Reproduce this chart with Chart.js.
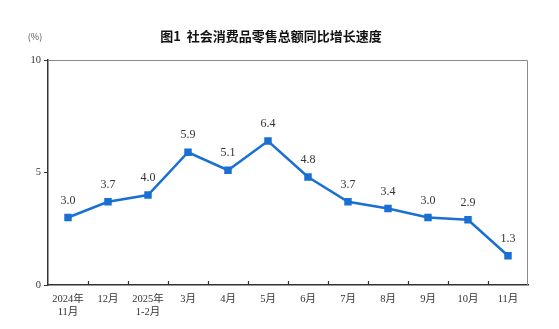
<!DOCTYPE html>
<html><head><meta charset="utf-8">
<script src="https://cdn.jsdelivr.net/npm/chart.js@4"></script>
<style>html,body{margin:0;padding:0;background:#fff}#w{width:559px;height:329px}</style>
</head><body><div id="w"><canvas id="c" width="559" height="329"></canvas></div>
<script>
const categories = [['2024年','11月'],'12月',['2025年','1-2月'],'3月','4月','5月','6月','7月','8月','9月','10月','11月'];
const growth = [3.0,3.7,4.0,5.9,5.1,6.4,4.8,3.7,3.4,3.0,2.9,1.3];
const yTicks = [0,5,10];
const titleText = '图1  社会消费品零售总额同比增长速度';
const unitText = '(%)';

const serif = '"Liberation Serif","Noto Sans CJK SC",serif';
const decor = {
  id:'decor',
  afterDraw(chart){
    const ctx = chart.ctx, a = chart.chartArea, xs = chart.scales.x;
    ctx.save();
    ctx.strokeStyle = '#8a8a8a'; ctx.lineWidth = 1;
    ctx.beginPath();
    ctx.moveTo(a.left, a.top+0.5); ctx.lineTo(a.right-0.5, a.top+0.5); ctx.lineTo(a.right-0.5, a.bottom);
    ctx.stroke();
    ctx.strokeStyle = '#333'; ctx.lineWidth = 1.2;
    ctx.beginPath();
    for (let i=1;i<categories.length;i++){
      const x = Math.round((xs.getPixelForTick(i-1)+xs.getPixelForTick(i))/2)+0.5;
      ctx.moveTo(x, a.bottom); ctx.lineTo(x, a.bottom-4);
    }
    ctx.stroke();
    const meta = chart.getDatasetMeta(0);
    ctx.fillStyle = '#333'; ctx.font = '12px '+serif; ctx.textAlign='center'; ctx.textBaseline='alphabetic';
    meta.data.forEach((p,i)=>{ ctx.fillText(growth[i].toFixed(1), p.x, p.y-14); });
    ctx.fillStyle = '#111'; ctx.font = 'bold 13px "Noto Sans CJK SC",sans-serif';
    ctx.fillText(titleText, 271, 41);
    ctx.fillStyle = '#555'; ctx.font = '9px "Noto Sans CJK SC",sans-serif';
    ctx.fillText(unitText, 35, 40);
    ctx.restore();
  }
};

new Chart(document.getElementById('c'), {
  type:'line',
  data:{ labels: categories, datasets:[{
    data: growth, borderColor:'#1a6fd4', backgroundColor:'#1a6fd4', borderWidth:2.5,
    pointStyle:'rect', pointRadius:3.5, pointHoverRadius:3.5, tension:0, fill:false
  }]},
  options:{
    responsive:false, animation:false, devicePixelRatio:1,
    layout:{padding:{top:60,right:31,left:0,bottom:0}},
    plugins:{legend:{display:false}, tooltip:{enabled:false}},
    scales:{
      x:{ offset:true,
        grid:{display:true, drawOnChartArea:false, drawTicks:false, color:'#333'},
        border:{display:true, color:'#333', width:1.5},
        ticks:{color:'#333', font:{family:serif, size:10.5}, padding:8, maxRotation:0, autoSkip:false},
        afterFit(s){ s.height = 44; }
      },
      y:{ min:0, max:10,
        afterBuildTicks(s){ s.ticks = yTicks.map(v=>({value:v})); },
        grid:{drawOnChartArea:false, tickLength:4, color:'#333'},
        border:{display:true, color:'#333', width:1.5},
        ticks:{color:'#333', font:{family:serif, size:10.5}, padding:3},
        afterFit(s){ s.width = 48; }
      }
    }
  },
  plugins:[decor]
});
</script></body></html>
